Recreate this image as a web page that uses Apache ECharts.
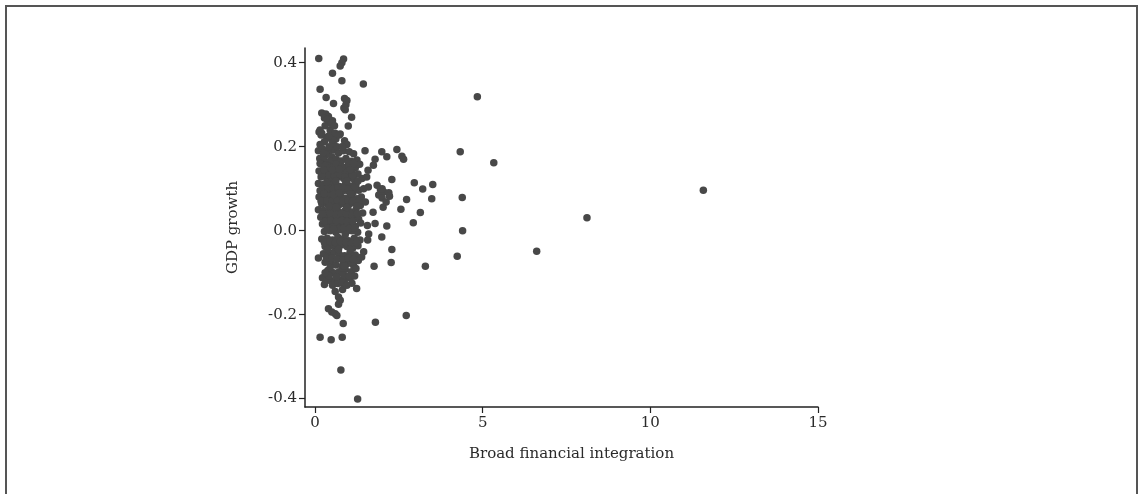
<!DOCTYPE html>
<html>
<head>
<meta charset="utf-8">
<script src="https://cdn.jsdelivr.net/npm/echarts@6/dist/echarts.min.js"></script>
<style>
html,body{margin:0;padding:0;background:#fff;overflow:hidden;}
#frame{position:absolute;left:5px;top:5px;width:1133px;height:495px;border:2px solid #555;border-bottom:none;box-sizing:border-box;}
#chart{position:absolute;left:0;top:0;width:1140px;height:494px;}
</style>
</head>
<body>
<div id="frame"></div>
<div id="chart"></div>
<script>
const xTickValues = [0, 5, 10, 15];
const yTickValues = [-0.4, -0.2, 0.0, 0.2, 0.4];
const xAxisTitle = 'Broad financial integration';
const yAxisTitle = 'GDP growth';

// dense core of observations
const clusterPoints = [
[0.12,0.235],[0.18,0.228],[0.35,0.222],[0.48,0.226],[0.62,0.218],[0.75,0.23],[0.88,0.214],[0.28,0.212],[0.55,0.205],[0.95,0.205],[0.15,0.205],
[0.1,0.19],[0.22,0.195],[0.4,0.188],[0.58,0.192],[0.7,0.185],[0.85,0.19],[1.02,0.188],[1.15,0.183],[0.32,0.18],[0.5,0.176],
[0.14,0.172],[0.27,0.168],[0.45,0.165],[0.63,0.17],[0.78,0.166],[0.92,0.172],[1.08,0.165],[1.25,0.168],[0.2,0.158],[0.38,0.155],[0.55,0.152],[0.7,0.156],[0.88,0.15],[1.0,0.155],[1.2,0.15],[1.33,0.158],
[0.12,0.142],[0.3,0.14],[0.47,0.138],[0.62,0.142],[0.8,0.136],[0.95,0.14],[1.1,0.138],[1.28,0.135],[0.18,0.128],[0.36,0.125],[0.52,0.122],[0.68,0.128],[0.85,0.124],[1.02,0.126],[1.18,0.12],[1.4,0.124],
[0.1,0.112],[0.25,0.11],[0.42,0.108],[0.58,0.112],[0.73,0.105],[0.9,0.11],[1.06,0.106],[1.22,0.11],[0.15,0.095],[0.32,0.096],[0.48,0.092],[0.64,0.097],[0.8,0.093],[0.97,0.095],[1.13,0.09],[1.3,0.096],[1.45,0.1],
[0.12,0.08],[0.28,0.078],[0.44,0.082],[0.6,0.076],[0.76,0.08],[0.92,0.077],[1.08,0.082],[1.25,0.076],[1.38,0.08],[0.2,0.064],[0.37,0.062],[0.53,0.066],[0.7,0.06],[0.86,0.064],[1.02,0.062],[1.18,0.066],[1.35,0.06],[1.5,0.068],
[0.1,0.05],[0.25,0.048],[0.41,0.046],[0.57,0.05],[0.73,0.044],[0.9,0.048],[1.05,0.045],[1.22,0.05],[1.42,0.042],[0.17,0.032],[0.33,0.03],[0.5,0.034],[0.66,0.028],[0.82,0.032],[0.98,0.03],[1.14,0.034],[1.3,0.028],
[0.22,0.016],[0.38,0.014],[0.55,0.018],[0.7,0.012],[0.87,0.016],[1.03,0.014],[1.2,0.01],[1.36,0.018],[0.28,-0.002],[0.45,0.0],[0.62,-0.004],[0.78,0.002],[0.94,-0.002],[1.1,0.0],[1.27,-0.004],
[0.2,-0.02],[0.36,-0.018],[0.52,-0.022],[0.68,-0.016],[0.84,-0.02],[1.0,-0.024],[1.17,-0.018],[1.34,-0.022],[0.3,-0.038],[0.46,-0.036],[0.62,-0.04],[0.78,-0.034],[0.95,-0.038],[1.12,-0.042],[1.28,-0.036],
[0.25,-0.055],[0.4,-0.058],[0.56,-0.052],[0.72,-0.056],[0.88,-0.06],[1.04,-0.054],[1.2,-0.058],[1.45,-0.05],
[0.3,-0.075],[0.48,-0.078],[0.62,-0.082],[0.8,-0.085],[0.97,-0.078],[1.15,-0.083],[0.38,-0.095],[0.55,-0.1],[0.72,-0.098],[0.9,-0.092],[1.08,-0.098],[1.22,-0.09],
[0.22,-0.112],[0.32,-0.12],[0.45,-0.118],[0.6,-0.122],[0.75,-0.118],[0.9,-0.115],[1.05,-0.112],[1.18,-0.108],[0.28,-0.128],[0.52,-0.13],[0.68,-0.126],[0.82,-0.124],
[1.29,-0.071],[1.39,-0.063],[1.24,-0.138],[0.7,-0.158],[0.75,-0.166],[0.95,-0.067],[1.09,-0.075]
];

// further observations filling the core
const clusterFillPoints = [
[0.2,0.135],[0.42,0.132],[0.58,0.13],[0.75,0.133],[0.9,0.128],[1.12,0.13],
[0.23,0.1],[0.4,0.102],[0.55,0.1],[0.68,0.104],[0.85,0.101],[1.0,0.1],[1.18,0.104],
[0.18,0.07],[0.35,0.072],[0.5,0.07],[0.66,0.072],[0.82,0.07],[0.98,0.072],[1.12,0.07],[1.3,0.07],
[0.3,0.04],[0.46,0.04],[0.62,0.038],[0.78,0.04],[0.94,0.04],[1.1,0.038],[1.26,0.04],
[0.3,0.022],[0.47,0.024],[0.63,0.022],[0.8,0.024],[0.96,0.022],[1.12,0.022],
[0.36,0.006],[0.53,0.008],[0.7,0.004],[0.86,0.006],[1.02,0.005],[1.18,0.006],
[0.28,-0.028],[0.44,-0.026],[0.6,-0.028],[0.76,-0.026],[0.92,-0.028],[1.08,-0.03],[1.24,-0.028],
[0.34,-0.066],[0.5,-0.066],[0.66,-0.068],[0.82,-0.07],[1.0,-0.066],[1.14,-0.068],
[0.42,-0.108],[0.64,-0.11],[0.85,-0.105],[0.3,-0.1],[0.15,0.16],[0.3,0.155],[0.46,0.15],[0.62,0.158],[0.8,0.152],[0.98,0.165],[1.15,0.16],
[0.25,0.185],[0.42,0.2],[0.65,0.2],[0.8,0.2],[0.5,0.215],[0.3,0.25],[0.45,0.24],
[0.26,0.145],[0.52,0.145],[0.72,0.146],[1.05,0.145],[0.35,0.115],[0.62,0.118],[0.95,0.118],[1.28,0.118],
[0.27,0.088],[0.55,0.086],[0.72,0.09],[1.06,0.088],[0.43,0.058],[0.62,0.056],[0.95,0.055],[1.25,0.058],
[0.22,0.04],[0.55,0.004],[0.9,-0.01],[0.38,-0.045],[0.7,-0.045],[1.05,-0.045],[0.45,-0.088],[0.86,-0.084],[1.0,-0.108]
];

// scattered observations above the core
const upperPoints = [
[0.11,0.41],[0.85,0.409],[0.8,0.4],[0.75,0.392],[0.52,0.375],[0.8,0.357],[1.44,0.349],[0.15,0.337],[0.33,0.317],[0.55,0.303],
[0.88,0.315],[0.95,0.31],[0.92,0.3],[0.86,0.292],[0.9,0.288],[0.2,0.28],[0.32,0.278],[0.4,0.272],[0.28,0.268],[0.36,0.265],
[0.52,0.262],[0.48,0.255],[0.58,0.25],[1.09,0.27],[0.99,0.249],[0.15,0.24],[0.2,0.232],[0.42,0.226],[0.6,0.232],[0.72,0.228]
];

// observations to the right of the core
const rightPoints = [
[1.49,0.19],[1.79,0.17],[1.74,0.156],[1.58,0.144],[1.54,0.128],[1.59,0.104],[1.85,0.108],[1.95,0.098],[1.9,0.085],[2.05,0.092],
[2.0,0.078],[2.2,0.09],[1.73,0.044],[2.03,0.056],[2.14,0.011],[1.99,-0.015],[1.79,0.017],[1.56,0.012],[1.6,-0.008],[1.57,-0.022],
[2.29,-0.045],[2.27,-0.076],[1.76,-0.085],[2.44,0.193],[2.59,0.177],[2.64,0.17],[1.99,0.188],[2.14,0.176],[2.29,0.122],[2.96,0.114],
[3.21,0.099],[3.51,0.11],[3.48,0.076],[2.73,0.074],[2.56,0.051],[3.14,0.043],[2.93,0.019],[2.0,0.1],[2.12,0.068],[2.22,0.082]
];

// scattered observations below the core
const lowerPoints = [
[0.1,-0.065],[0.15,-0.254],[0.48,-0.26],[0.81,-0.254],[0.84,-0.221],[0.4,-0.186],[0.5,-0.194],[0.6,-0.198],[0.65,-0.202],
[0.77,-0.332],[1.27,-0.401],[1.8,-0.218],[2.72,-0.202],[0.7,-0.175],[0.6,-0.145],[0.82,-0.14],[0.95,-0.13],[1.1,-0.125]
];

// far outliers
const outlierPoints = [
[4.84,0.319],[4.33,0.188],[5.33,0.162],[8.11,0.031],[6.61,-0.049],[4.39,0.079],[4.4,0.0],[4.24,-0.061],[3.29,-0.085],[11.58,0.096]
];

const allPoints = [].concat(clusterPoints, clusterFillPoints, upperPoints, rightPoints, lowerPoints, outlierPoints);

const font = 'DejaVu Serif';
const textColor = '#2a2a2a';
const chart = echarts.init(document.getElementById('chart'), null, {renderer: 'canvas'});
chart.setOption({
  animation: false,
  backgroundColor: 'transparent',
  grid: {left: 305, right: 322, top: 48, bottom: 87},
  xAxis: {
    type: 'value', min: -0.3, max: 15,
    name: xAxisTitle, nameLocation: 'middle', nameGap: 40,
    nameTextStyle: {fontFamily: font, fontSize: 15, color: textColor, padding: [0, 0, 0, 20]},
    axisLine: {show: true, onZero: false, lineStyle: {color: '#222', width: 1.5}},
    axisTick: {show: true, length: 6, customValues: xTickValues, lineStyle: {color: '#222', width: 1.2}},
    axisLabel: {customValues: xTickValues, margin: 9, fontFamily: font, fontSize: 15, color: textColor},
    splitLine: {show: false}
  },
  yAxis: {
    type: 'value', min: -0.42, max: 0.435,
    name: yAxisTitle, nameLocation: 'middle', nameGap: 64, nameRotate: 90,
    nameTextStyle: {fontFamily: font, fontSize: 15, color: textColor},
    axisLine: {show: true, onZero: false, lineStyle: {color: '#222', width: 1.5}},
    axisTick: {show: true, length: 6, customValues: yTickValues, lineStyle: {color: '#222', width: 1.2}},
    axisLabel: {customValues: yTickValues, margin: 8, fontFamily: font, fontSize: 15, color: textColor,
      formatter: v => v.toFixed(1)},
    splitLine: {show: false}
  },
  series: [{
    type: 'scatter',
    data: allPoints,
    symbol: 'circle',
    symbolSize: 7.5,
    itemStyle: {color: '#484848', opacity: 1}
  }]
});
</script>
</body>
</html>
